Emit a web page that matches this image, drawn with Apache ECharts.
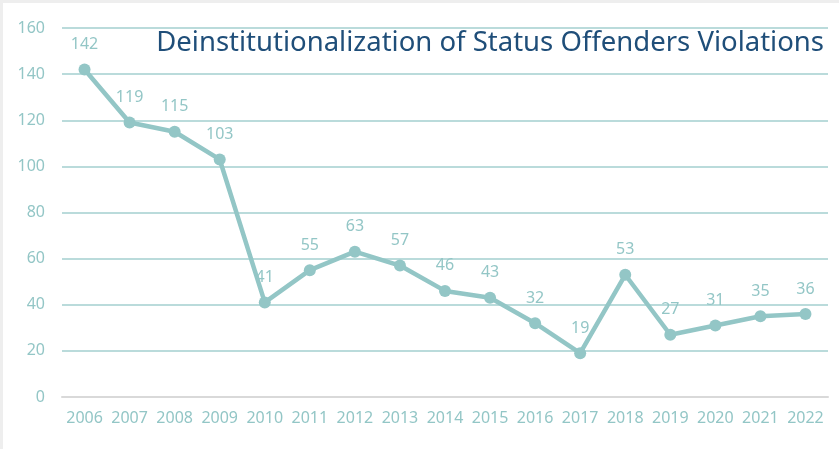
<!DOCTYPE html>
<html>
<head>
<meta charset="utf-8">
<script src="https://cdn.jsdelivr.net/npm/echarts@6/dist/echarts.min.js"></script>
<style>
  html, body { margin: 0; padding: 0; background: #eeeeee; }
  #chart { position: absolute; left: 3px; top: 3px; width: 836px; height: 446px; background: #ffffff; }
</style>
</head>
<body>
<div id="chart"></div>
<script>
const years = ["2006", "2007", "2008", "2009", "2010", "2011", "2012", "2013", "2014", "2015", "2016", "2017", "2018", "2019", "2020", "2021", "2022"];
const violations = [142, 119, 115, 103, 41, 55, 63, 57, 46, 43, 32, 19, 53, 27, 31, 35, 36];
const titleText = "Deinstitutionalization of Status Offenders Violations";

const teal = "#93c6c6";
const labelColor = "#93c6c6";

const chart = echarts.init(document.getElementById("chart"), null, { renderer: "canvas" });

chart.setOption({
  animation: false,
  backgroundColor: "#ffffff",
  title: {
    text: titleText,
    right: 10,
    top: 21,
    textStyle: {
      color: "#1f4e79",
      fontFamily: "Noto Sans",
      fontWeight: "normal",
      fontSize: 27.5,
    },
  },
  grid: {
    left: 59,
    right: 11,
    top: 25,
    bottom: 52,
  },
  xAxis: {
    type: "category",
    data: years,
    boundaryGap: true,
    axisTick: { show: false },
    axisLine: { show: true, lineStyle: { color: "#d9d9d9", width: 2 } },
    axisLabel: {
      interval: 0,
      color: labelColor,
      fontFamily: "Noto Sans",
      fontSize: 16,
      margin: 13,
    },
  },
  yAxis: {
    type: "value",
    min: 0,
    max: 160,
    interval: 20,
    axisTick: { show: false },
    axisLine: { show: false },
    axisLabel: {
      color: labelColor,
      fontFamily: "Noto Sans",
      fontSize: 16,
      margin: 17,
    },
    splitLine: {
      lineStyle: { color: "#a3cfcf", width: 1.5 },
    },
  },
  series: [
    {
      type: "line",
      data: violations,
      symbol: "circle",
      symbolSize: 12,
      lineStyle: { color: teal, width: 4.5 },
      itemStyle: { color: teal },
      label: {
        show: true,
        position: "top",
        distance: 11,
        color: labelColor,
        fontFamily: "Noto Sans",
        fontSize: 16,
      },
      z: 3,
    },
  ],
});
</script>
</body>
</html>
